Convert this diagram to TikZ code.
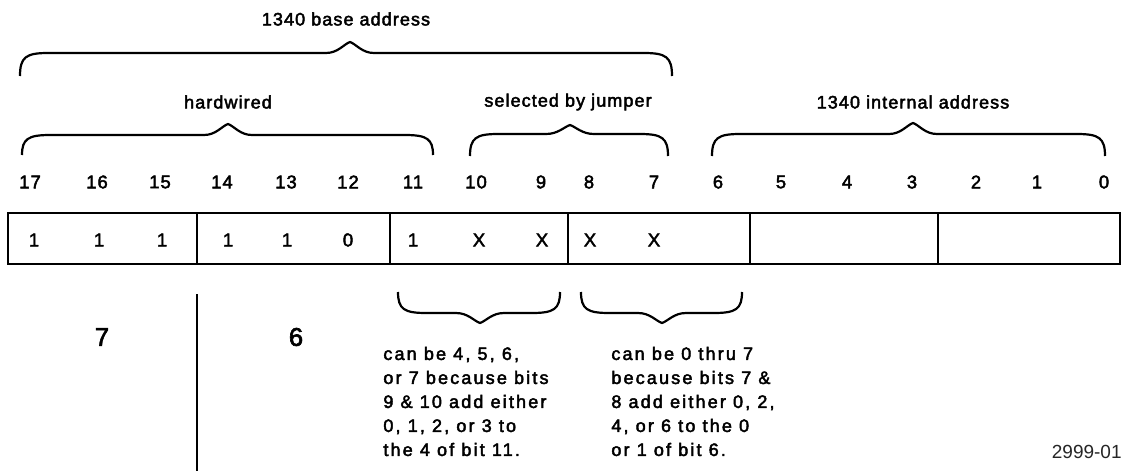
\documentclass[tikz,border=0pt]{standalone}
\usepackage{fontspec}
\setmainfont{Liberation Sans}[LetterSpace=6,FakeBold=2.5]
\newfontfamily\plainfont{Liberation Sans}
\newfontfamily\notefont{Liberation Sans}[LetterSpace=12,FakeBold=2.5]
\newcommand\mybraceup[6]{% x1 x2 xm yend yhoriz ytip
  \draw[brace] (#1,#4) .. controls (#1,#5+4) and (#1+6,#5) .. (#1+28,#5) -- (#3-24,#5)
    .. controls (#3-12,#5) and (#3-6,#6+2) .. (#3,#6)
    .. controls (#3+6,#6+2) and (#3+12,#5) .. (#3+24,#5) -- (#2-28,#5)
    .. controls (#2-6,#5) and (#2,#5+4) .. (#2,#4);}
\newcommand\mybracedown[6]{% x1 x2 xm yend yhoriz ytip (tip below)
  \draw[brace] (#1,#4) .. controls (#1,#5-4) and (#1+6,#5) .. (#1+28,#5) -- (#3-24,#5)
    .. controls (#3-12,#5) and (#3-6,#6-2) .. (#3,#6)
    .. controls (#3+6,#6-2) and (#3+12,#5) .. (#3+24,#5) -- (#2-28,#5)
    .. controls (#2-6,#5) and (#2,#5-4) .. (#2,#4);}
\begin{document}
\begin{tikzpicture}[x=0.5pt,y=-0.5pt,
  brace/.style={line width=1.1pt},
  boxline/.style={line width=1.25pt},
  hdr/.style={font=\fontsize{9}{10}\selectfont},
  bitnum/.style={font=\fontsize{9.2}{10}\selectfont},
  cell/.style={font=\fontsize{9.3}{10}\selectfont},
  big/.style={font=\fontsize{12.8}{14}\selectfont},
  note/.style={font=\notefont\fontsize{9}{12}\selectfont,align=left,anchor=north west,inner sep=0pt}]
\useasboundingbox (0,0) rectangle (1123,471);
% headers
\node[hdr] (hbase) at (346,19) {1340 base address};
\node[hdr] (hhard) at (228,102) {hardwired};
\node[hdr] (hjump) at (568,102) {selected by jumper};
\node[hdr] (hint) at (913,102) {1340 internal address};
% upper braces
\mybraceup{20}{672}{350}{76}{53}{42}
\mybraceup{22}{433}{228}{155}{135}{124}
\mybraceup{470}{668}{570}{156}{134}{125}
\mybraceup{712}{1105}{913}{156}{134}{123}
% bit numbers
\foreach \b/\x in {17/30,16/97,15/160,14/222,13/286,12/348,11/413,10/476,9/541,8/589,7/654,6/718,5/781,4/847,3/912,2/976,1/1037,0/1104}
  \node[bitnum] (n\b) at (\x,182) {\b};
% register box
\draw[boxline] (1121,213) -- (8,213) -- (8,264) -- (1121,264);
\foreach \x in {197,390,568,750,938,1120}
  \draw[boxline] (\x,213) -- (\x,264);
\foreach \v/\x [count=\i] in {1/34,1/99,1/162,1/228,1/287,0/348,1/413,X/479,X/542,X/590,X/654}
  \node[cell] (c\i) at (\x,240) {\v};
% lower braces
\mybracedown{398}{560}{480}{292}{313}{323}
\mybracedown{581}{742}{662}{292}{313}{323}
% octal digits
\draw[line width=1.2pt] (197,294) -- (197,471);
\node[big] (o7) at (102,337) {7};
\node[big] (o6) at (296,337) {6};
% notes
\node[note] (t1) at (383,346.5) {can be 4, 5, 6,\\or 7 because bits\\9 \& 10 add either\\0, 1, 2, or 3 to\\the 4 of bit 11.};
\node[note] (t2) at (611,346.5) {can be 0 thru 7\\because bits 7 \&\\8 add either 0, 2,\\4, or 6 to the 0\\or 1 of bit 6.};
\node[font=\plainfont\fontsize{9.5}{10}\selectfont,text=black!85,anchor=east,inner sep=0pt] (fig) at (1122,452) {2999-01};
\end{tikzpicture}
\end{document}
